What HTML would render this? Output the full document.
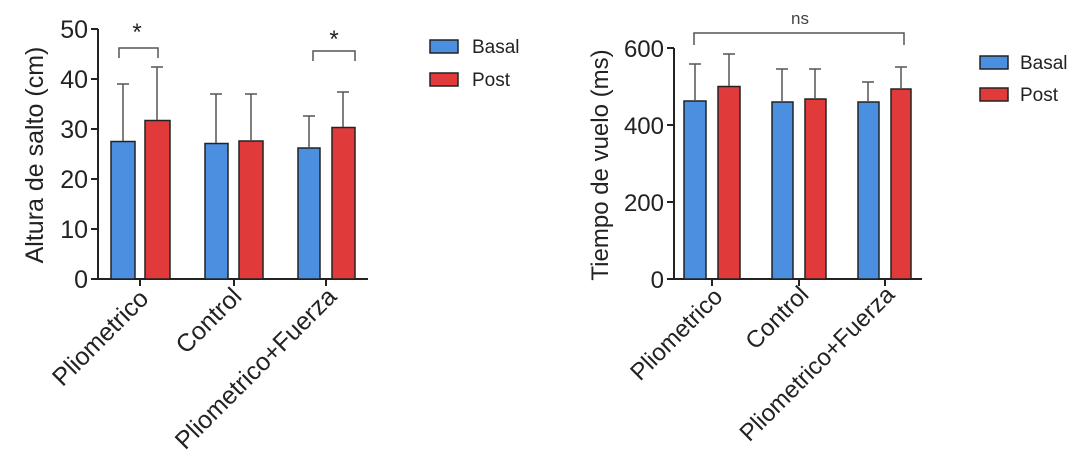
<!DOCTYPE html>
<html><head><meta charset="utf-8"><style>
html,body{margin:0;padding:0;background:#fff;}
svg{display:block;font-family:"Liberation Sans",sans-serif;}
</style></head><body>
<svg width="1091" height="475" viewBox="0 0 1091 475" xmlns="http://www.w3.org/2000/svg">
<g stroke="#222" stroke-width="2" fill="none">
<line x1="98" y1="29" x2="98" y2="280"/>
<line x1="97" y1="279" x2="368" y2="279"/>
<line x1="91" y1="29" x2="98" y2="29"/><line x1="91" y1="79" x2="98" y2="79"/><line x1="91" y1="129" x2="98" y2="129"/><line x1="91" y1="179" x2="98" y2="179"/><line x1="91" y1="229" x2="98" y2="229"/><line x1="91" y1="279" x2="98" y2="279"/>
<line x1="140" y1="279" x2="140" y2="286"/><line x1="234" y1="279" x2="234" y2="286"/><line x1="326" y1="279" x2="326" y2="286"/>
<line x1="674" y1="48" x2="674" y2="280"/>
<line x1="673" y1="279" x2="922" y2="279"/>
<line x1="667" y1="48" x2="674" y2="48"/><line x1="667" y1="125" x2="674" y2="125"/><line x1="667" y1="202" x2="674" y2="202"/><line x1="667" y1="279" x2="674" y2="279"/>
<line x1="712" y1="279" x2="712" y2="286"/><line x1="799" y1="279" x2="799" y2="286"/><line x1="885" y1="279" x2="885" y2="286"/>
</g>
<g stroke="#222" stroke-width="1.5">
<rect x="111" y="141.5" width="24" height="137.5" fill="#4a8fe0"/>
<rect x="145" y="120.5" width="25" height="158.5" fill="#e03a3a"/>
<rect x="205" y="143.5" width="23" height="135.5" fill="#4a8fe0"/>
<rect x="239" y="141" width="24" height="138" fill="#e03a3a"/>
<rect x="298" y="148" width="22" height="131" fill="#4a8fe0"/>
<rect x="332" y="127.5" width="23" height="151.5" fill="#e03a3a"/>
<rect x="684" y="101" width="22" height="178" fill="#4a8fe0"/>
<rect x="718" y="86.5" width="22" height="192.5" fill="#e03a3a"/>
<rect x="772" y="102" width="21" height="177" fill="#4a8fe0"/>
<rect x="805" y="99" width="21" height="180" fill="#e03a3a"/>
<rect x="858" y="102" width="21" height="177" fill="#4a8fe0"/>
<rect x="891" y="89" width="20" height="190" fill="#e03a3a"/>
</g>
<g stroke="#555" stroke-width="1.5" fill="none">
<path d="M123 141V84M117 84H129"/>
<path d="M157 120V67M151 67H163"/>
<path d="M216 143V94M210 94H222"/>
<path d="M251 141V94M245 94H257"/>
<path d="M309 148V116M303 116H315"/>
<path d="M343 127V92M337 92H349"/>
<path d="M695 101V64M689 64H701"/>
<path d="M729 86V54M723 54H735"/>
<path d="M782 102V69M776 69H788"/>
<path d="M815 99V69M809 69H821"/>
<path d="M868 102V82M862 82H874"/>
<path d="M901 89V67M895 67H907"/>
<path d="M119 58V48H158V58"/>
<path d="M313 61V51H355V61"/>
<path d="M694 45V33H904V45"/>
</g>
<g fill="#222" font-size="24">
<text x="137" y="40" text-anchor="middle">*</text>
<text x="334" y="47" text-anchor="middle">*</text>
<text x="800" y="24" text-anchor="middle" font-size="17" fill="#444">ns</text>
<g text-anchor="end">
<text x="88" y="38" font-size="25">50</text><text x="88" y="88" font-size="25">40</text><text x="88" y="138" font-size="25">30</text><text x="88" y="188" font-size="25">20</text><text x="88" y="238" font-size="25">10</text><text x="88" y="288" font-size="25">0</text>
<text x="664" y="57" font-size="24">600</text><text x="664" y="134" font-size="24">400</text><text x="664" y="211" font-size="24">200</text><text x="664" y="288" font-size="24">0</text>
<text transform="translate(150,300) rotate(-45)" font-size="25">Pliometrico</text>
<text transform="translate(243,298) rotate(-45)" font-size="25">Control</text>
<text transform="translate(338,298) rotate(-45)" font-size="25">Pliometrico+Fuerza</text>
<text transform="translate(724,298) rotate(-45)" font-size="24">Pliometrico</text>
<text transform="translate(810,296) rotate(-45)" font-size="24">Control</text>
<text transform="translate(896,296) rotate(-45)" font-size="24">Pliometrico+Fuerza</text>
</g>
<text transform="translate(43,155) rotate(-90)" text-anchor="middle" font-size="25">Altura de salto (cm)</text>
<text transform="translate(608,165) rotate(-90)" text-anchor="middle" font-size="24">Tiempo de vuelo (ms)</text>
</g>
<g stroke="#222" stroke-width="1.5">
<rect x="430" y="40" width="28" height="13" fill="#4a8fe0"/>
<rect x="430" y="73" width="28" height="13" fill="#e03a3a"/>
<rect x="980" y="56" width="28" height="13" fill="#4a8fe0"/>
<rect x="980" y="88" width="28" height="13" fill="#e03a3a"/>
</g>
<g fill="#222" font-size="19">
<text x="472" y="53">Basal</text><text x="472" y="86">Post</text>
<text x="1020" y="69">Basal</text><text x="1020" y="101">Post</text>
</g>
</svg>
</body></html>
